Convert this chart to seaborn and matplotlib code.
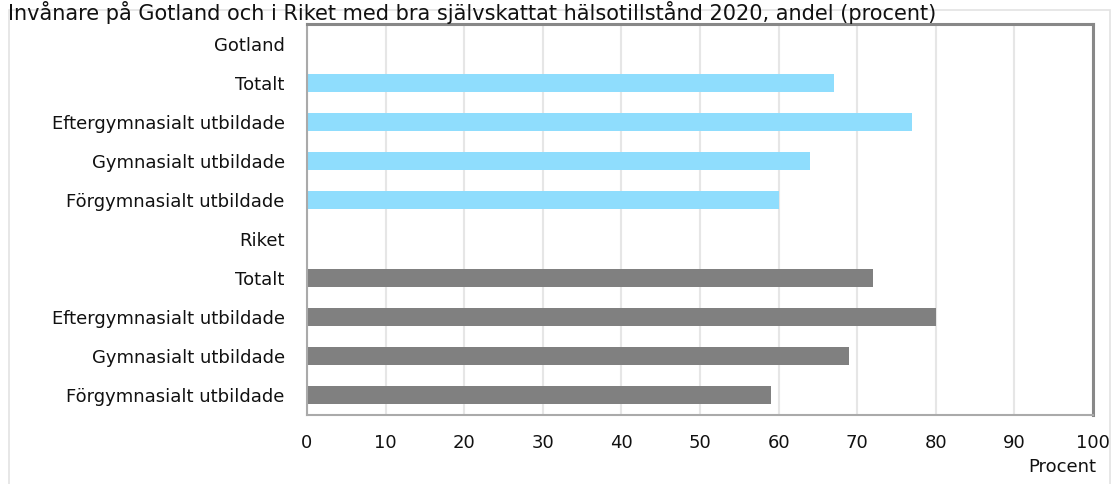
import matplotlib
matplotlib.use("Agg")
import matplotlib.pyplot as plt
import seaborn as sns
import pandas as pd
from matplotlib.patches import Rectangle

title = "Invånare på Gotland och i Riket med bra självskattat hälsotillstånd 2020, andel (procent)"
row_labels = ["Gotland", "Totalt", "Eftergymnasialt utbildade", "Gymnasialt utbildade",
              "Förgymnasialt utbildade", "Riket", "Totalt", "Eftergymnasialt utbildade",
              "Gymnasialt utbildade", "Förgymnasialt utbildade"]
row_keys = [f"r{i}" for i in range(len(row_labels))]
gotland_keys = ["r1", "r2", "r3", "r4"]
gotland_values = [67, 77, 64, 60]
riket_keys = ["r6", "r7", "r8", "r9"]
riket_values = [72, 80, 69, 59]
x_ticks = [0, 10, 20, 30, 40, 50, 60, 70, 80, 90, 100]

df = pd.DataFrame({
    "key": gotland_keys + riket_keys,
    "value": gotland_values + riket_values,
    "group": ["Gotland"] * 4 + ["Riket"] * 4,
})

sns.set_theme(style="white")
plt.rcParams["font.family"] = ["DejaVu Sans"]

fig = plt.figure(figsize=(11.18, 4.84), dpi=100)
ax = fig.add_axes([307/1118, 1 - 415/484, (1093-307)/1118, (415-24)/484])

sns.barplot(data=df, y="key", x="value", hue="group", order=row_keys,
            palette={"Gotland": "#8FDDFD", "Riket": "#808080"},
            orient="h", dodge=False, width=0.46, legend=False, ax=ax,
            saturation=1, linewidth=0)

ax.set_xlim(0, 100)
ax.set_xticks(x_ticks)
ax.set_xticklabels([str(t) for t in x_ticks], fontsize=13, color="#111111")
ax.set_yticks(range(len(row_labels)))
ax.set_yticklabels(row_labels, fontsize=13, color="#111111")
ax.set_ylim(len(row_labels) - 0.5, -0.5)
ax.set_xlabel("")
ax.set_ylabel("")
ax.tick_params(axis="y", length=0, pad=16)
ax.tick_params(axis="x", length=0, pad=14)
ax.xaxis.grid(True, color="#E6E6E6", linewidth=1.5)
ax.set_axisbelow(True)
for s in ["top", "right"]:
    ax.spines[s].set_color("#888888")
    ax.spines[s].set_linewidth(2.2)
for s in ["left", "bottom"]:
    ax.spines[s].set_color("#AAAAAA")
    ax.spines[s].set_linewidth(1.5)

fig.text(1062/1118, 1 - 467/484, "Procent", fontsize=13, color="#111111",
         ha="center", va="center")
fig.text(8/1118, 1 - 1/484, title, fontsize=15, color="#111111", ha="left", va="top")
fig.patches.append(Rectangle((9/1118, -0.05), (1110-9)/1118, 1.05 - 10/484,
                             transform=fig.transFigure,
                             fill=False, edgecolor="#E3E3E3", linewidth=1.2))

fig.savefig("out.png", dpi=100)
